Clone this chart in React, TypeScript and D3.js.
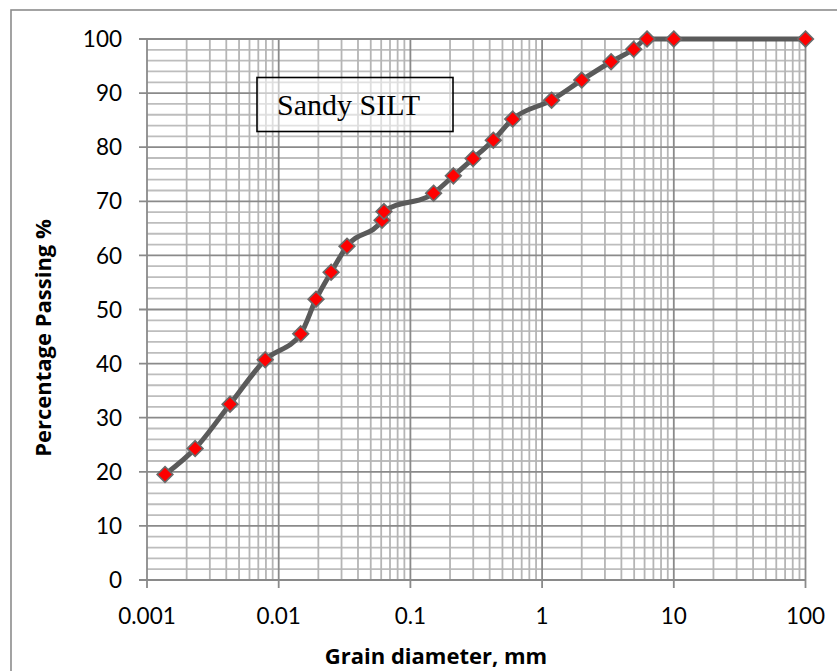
import React from "react";
import * as d3 from "d3";

const diameters = [0.00137, 0.00232, 0.00427, 0.0079, 0.0147, 0.0192, 0.025, 0.033, 0.0609, 0.063, 0.15, 0.212, 0.299, 0.426, 0.598, 1.18, 2.0, 3.34, 4.96, 6.26, 10, 100];
const passing = [19.5, 24.3, 32.5, 40.7, 45.5, 51.9, 56.9, 61.7, 66.5, 68.1, 71.5, 74.7, 77.9, 81.3, 85.2, 88.7, 92.4, 95.8, 98.1, 100, 100, 100];
const xTicks = [0.001, 0.01, 0.1, 1, 10, 100];
const xTickLabels = ["0.001", "0.01", "0.1", "1", "10", "100"];
const yTicks = [0, 10, 20, 30, 40, 50, 60, 70, 80, 90, 100];
const labelText = "Sandy SILT";

export default function App() {
  const W = 837, H = 671;
  const left = 147, right = 805.5, top = 39, bottom = 580;
  const x = d3.scaleLog().domain([0.001, 100]).range([left, right]);
  const y = d3.scaleLinear().domain([0, 100]).range([bottom, top]);

  const minorX: number[] = [];
  for (let e = -3; e < 2; e++) for (let m = 2; m <= 9; m++) minorX.push(m * Math.pow(10, e));
  const minorY = d3.range(2, 100, 2).filter((v) => v % 10 !== 0);

  const pts: [number, number][] = diameters.map((d, i) => [x(d), y(passing[i])]);
  const line = d3.line().curve(d3.curveMonotoneX)(pts) || "";

  const font = "Lato, 'Open Sans', sans-serif";
  const titleFont = "'Open Sans', Lato, sans-serif";
  const dS = 7.8;

  return (
    <svg width={W} height={H} style={{ position: "absolute", left: 0, top: 0 }}>
      <rect x={0} y={0} width={W} height={H} fill="#fff" />
      <rect x={11} y={10} width={840} height={680} fill="none" stroke="#8c8c8c" strokeWidth={1.6} />
      {/* minor grid */}
      {minorY.map((v) => (
        <line key={"my" + v} x1={left} x2={right} y1={y(v)} y2={y(v)} stroke="#bdbdbd" strokeWidth={1.8} />
      ))}
      {minorX.map((v, i) => (
        <line key={"mx" + i} x1={x(v)} x2={x(v)} y1={top} y2={bottom} stroke="#b5b5b5" strokeWidth={1.8} />
      ))}
      {/* major grid */}
      {yTicks.map((v) => (
        <line key={"gy" + v} x1={left - 8} x2={right} y1={y(v)} y2={y(v)} stroke="#8a8a8a" strokeWidth={1.8} />
      ))}
      {xTicks.map((v) => (
        <line key={"gx" + v} x1={x(v)} x2={x(v)} y1={top} y2={bottom + 8} stroke="#8a8a8a" strokeWidth={1.8} />
      ))}
      {/* text box */}
      <rect x={257} y={77.5} width={196} height={54} fill="#fff" fillOpacity={0.55} stroke="#000" strokeWidth={1.6} />
      <text x={277} y={115} fontFamily="'Liberation Serif', 'Times New Roman', serif" fontSize={30} fill="#000">
        {labelText}
      </text>
      {/* tick labels */}
      {yTicks.map((v) => (
        <text key={"ty" + v} x={122} y={y(v)} dy="0.36em" textAnchor="end" fontFamily={font} fontSize={22.5} fill="#000">
          {v}
        </text>
      ))}
      {xTicks.map((v, i) => (
        <text key={"tx" + v} x={x(v)} y={623.5} textAnchor="middle" fontFamily={font} fontSize={22.5} fill="#000">
          {xTickLabels[i]}
        </text>
      ))}
      <text x={436} y={664} textAnchor="middle" fontFamily={titleFont} fontWeight="bold" fontSize={22} fill="#000">
        Grain diameter, mm
      </text>
      <text transform={`translate(51,338) rotate(-90)`} textAnchor="middle" fontFamily={titleFont} fontWeight="bold" fontSize={22} fill="#000">
        Percentage Passing %
      </text>
      {/* series */}
      <path d={line} fill="none" stroke="#5a5a5a" strokeWidth={5} strokeLinejoin="round" />
      {pts.map(([px, py], i) => (
        <path
          key={"m" + i}
          d={`M${px},${py - dS}L${px + dS},${py}L${px},${py + dS}L${px - dS},${py}Z`}
          fill="#ff0000"
          stroke="#6a6a6a"
          strokeWidth={1.7}
        />
      ))}
    </svg>
  );
}
